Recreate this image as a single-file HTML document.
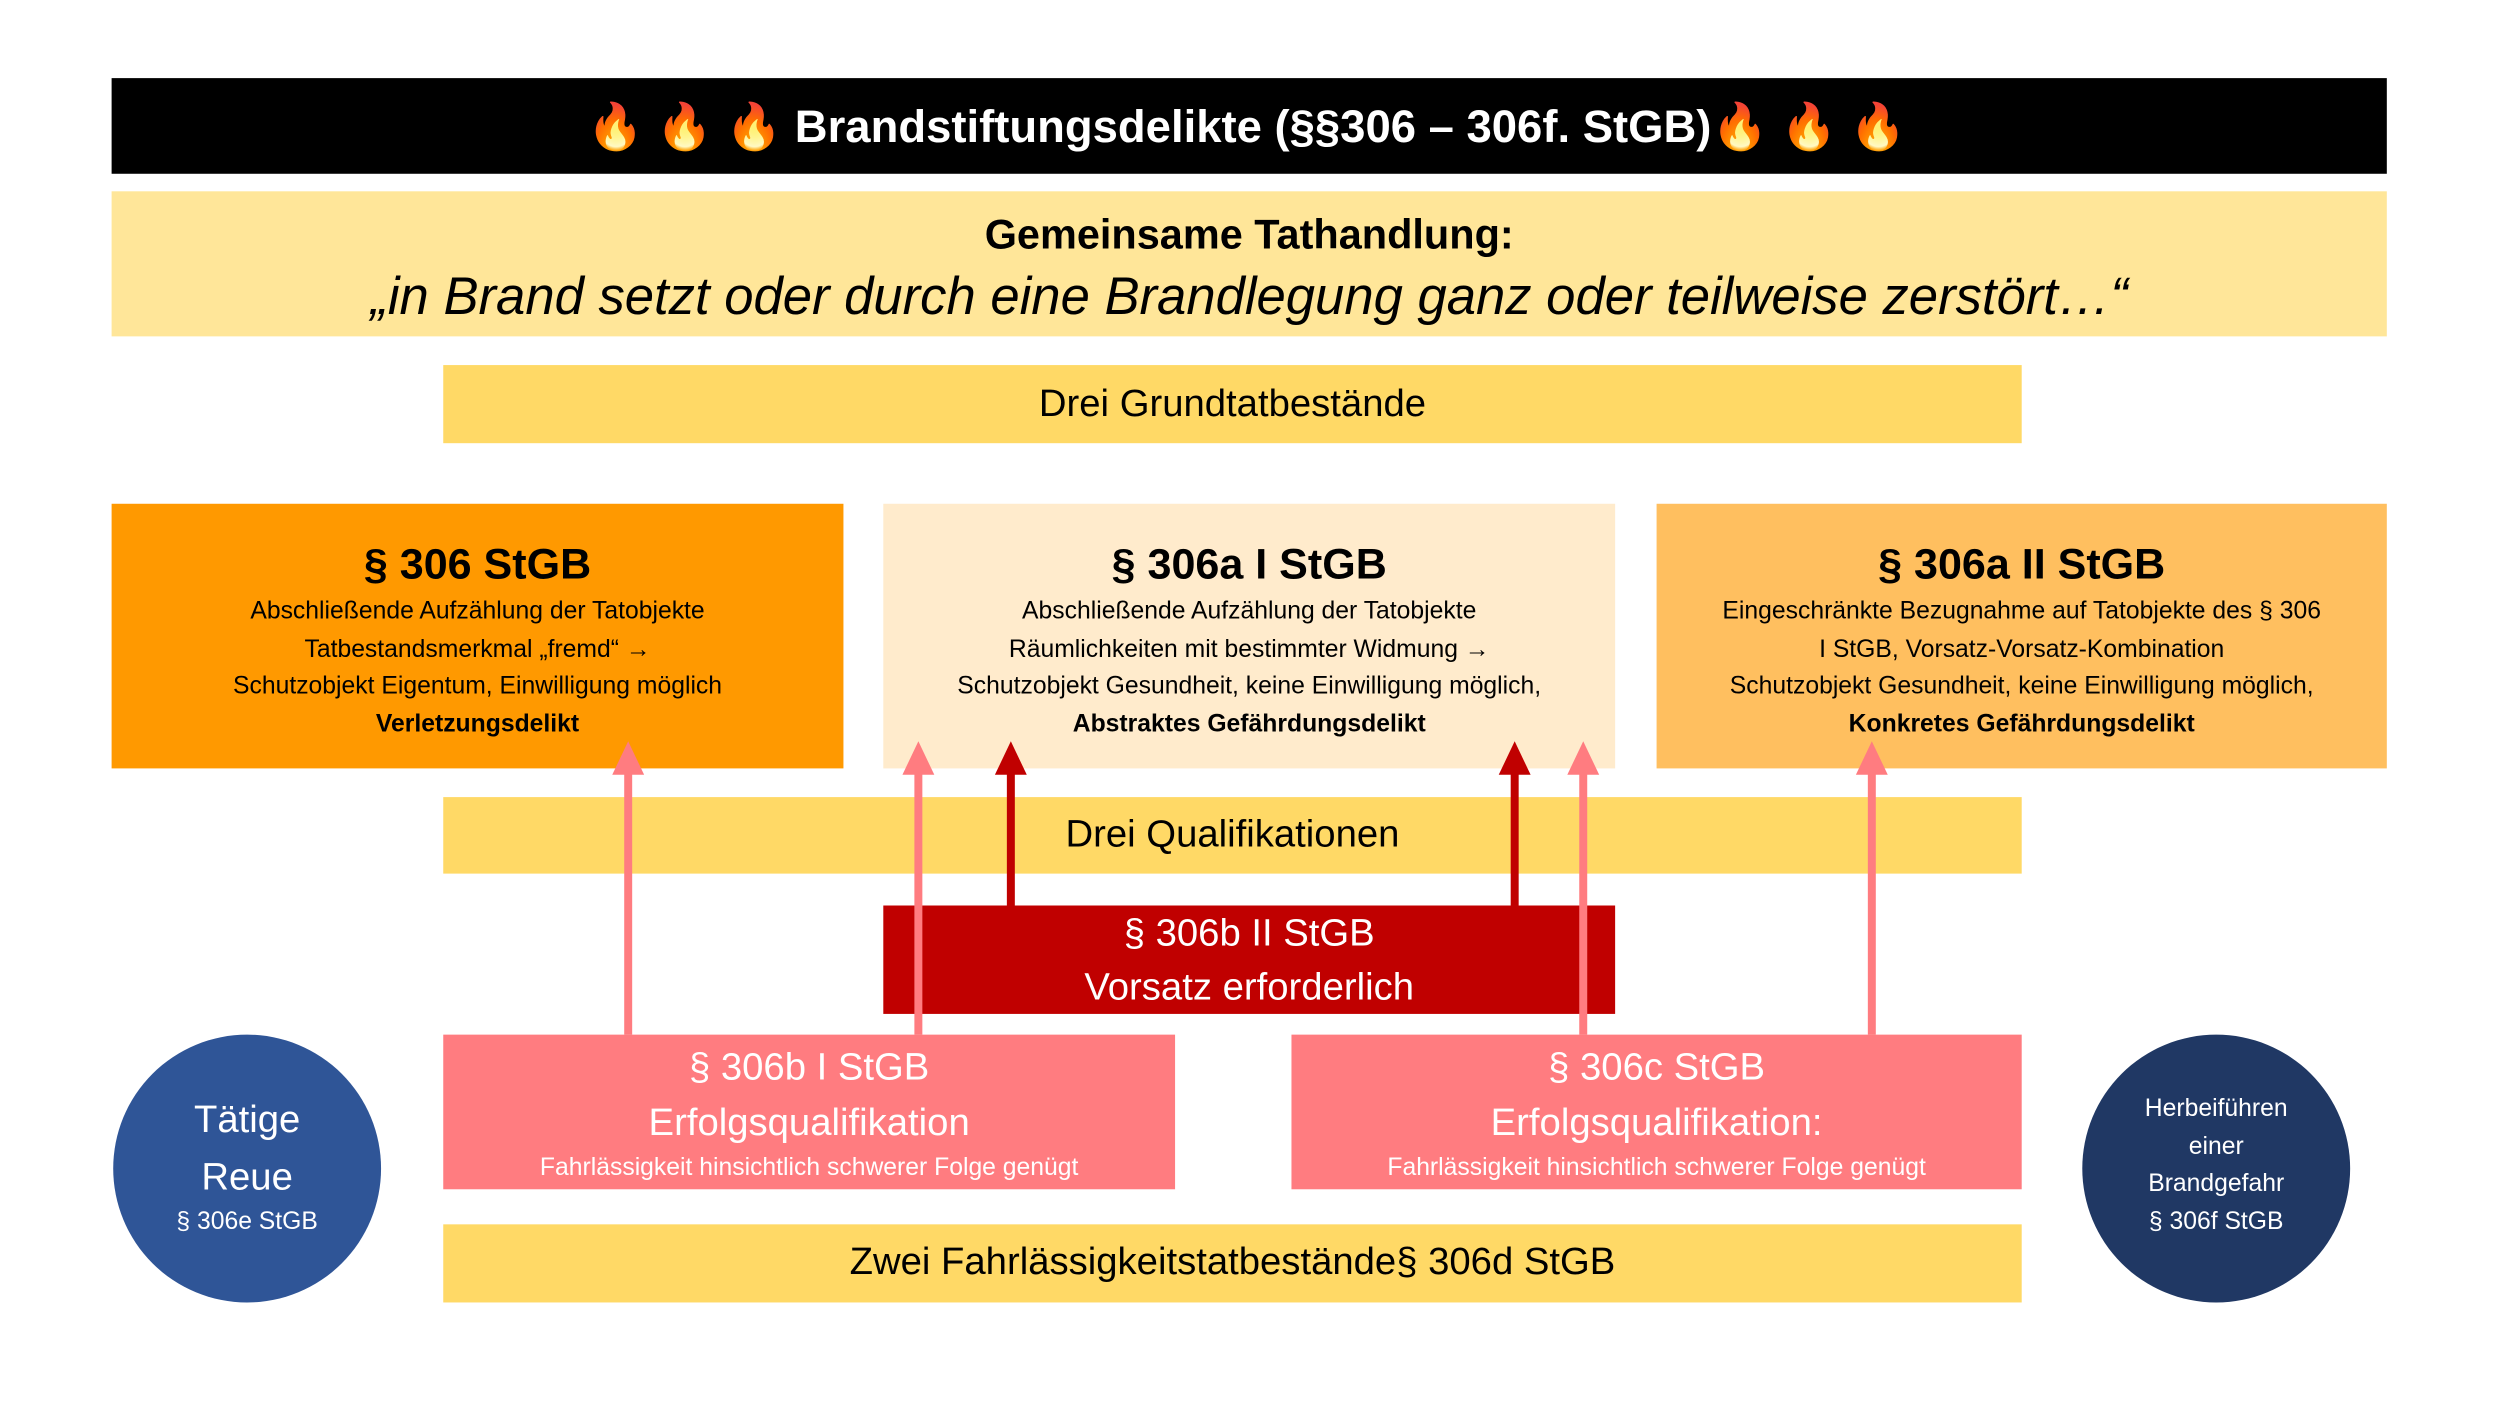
<!DOCTYPE html>
<html><head><meta charset="utf-8"><style>
html,body{margin:0;padding:0;background:#fff;width:2500px;height:1406px;overflow:hidden}
#s{position:absolute;left:0;top:0;width:1568px;height:882px;transform:scale(1.5944,1.5942);transform-origin:0 0;font-family:"Liberation Sans",sans-serif}
.b{position:absolute;box-sizing:border-box;text-align:center}
.t{position:absolute;left:0;right:0;text-align:center;white-space:nowrap}
.sm{font-size:15.5px;line-height:23.5px}
</style></head><body><div id="s">
<div class="b" style="left:70px;top:49px;width:1427px;height:60px;background:#000"></div>
<div class="t" style="top:61px;width:1568px;color:#fff;font-weight:bold;font-size:28.5px;line-height:38px;left:-2px">🔥 🔥 🔥 Brandstiftungsdelikte (§§306 – 306f. StGB)🔥 🔥 🔥</div>

<div class="b" style="left:70px;top:120px;width:1427px;height:91px;background:#FFE699">
<div class="t" style="top:10px;font-weight:bold;font-size:26px;line-height:34px">Gemeinsame Tathandlung:</div>
<div class="t" style="top:47px;font-style:italic;font-size:33px;line-height:38px">„in Brand setzt oder durch eine Brandlegung ganz oder teilweise zerstört…“</div>
</div>

<div class="b" style="left:278px;top:229px;width:990px;height:49px;background:#FFD966"><div class="t" style="top:9px;font-size:24px;line-height:32px">Drei Grundtatbestände</div></div>

<div class="b" style="left:70px;top:316px;width:459px;height:166px;background:#FF9900">
<div class="t" style="top:20px;font-weight:bold;font-size:27px;line-height:36px">§ 306 StGB</div>
<div class="t sm" style="top:56px">Abschließende Aufzählung der Tatobjekte<br>Tatbestandsmerkmal „fremd“ →<br>Schutzobjekt Eigentum, Einwilligung möglich<br><b>Verletzungsdelikt</b></div></div>

<div class="b" style="left:554px;top:316px;width:459px;height:166px;background:#FFEBCC">
<div class="t" style="top:20px;font-weight:bold;font-size:27px;line-height:36px">§ 306a I StGB</div>
<div class="t sm" style="top:56px">Abschließende Aufzählung der Tatobjekte<br>Räumlichkeiten mit bestimmter Widmung →<br>Schutzobjekt Gesundheit, keine Einwilligung möglich,<br><b>Abstraktes Gefährdungsdelikt</b></div></div>

<div class="b" style="left:1039px;top:316px;width:458px;height:166px;background:#FFBF5F">
<div class="t" style="top:20px;font-weight:bold;font-size:27px;line-height:36px">§ 306a II StGB</div>
<div class="t sm" style="top:56px">Eingeschränkte Bezugnahme auf Tatobjekte des § 306<br>I StGB, Vorsatz-Vorsatz-Kombination<br>Schutzobjekt Gesundheit, keine Einwilligung möglich,<br><b>Konkretes Gefährdungsdelikt</b></div></div>

<div class="b" style="left:278px;top:500px;width:990px;height:48px;background:#FFD966"><div class="t" style="top:8px;font-size:24px;line-height:32px">Drei Qualifikationen</div></div>

<div class="b" style="left:554px;top:568px;width:459px;height:68px;background:#C00000;color:#fff">
<div class="t" style="top:1px;font-size:24px;line-height:34px">§ 306b II StGB<br>Vorsatz erforderlich</div></div>

<div class="b" style="left:278px;top:649px;width:459px;height:97px;background:#FF7C80;color:#fff">
<div class="t" style="top:3px;font-size:24px;line-height:35px">§ 306b I StGB<br>Erfolgsqualifikation</div>
<div class="t" style="top:74px;font-size:15.5px;line-height:20px">Fahrlässigkeit hinsichtlich schwerer Folge genügt</div></div>

<div class="b" style="left:810px;top:649px;width:458px;height:97px;background:#FF7C80;color:#fff">
<div class="t" style="top:3px;font-size:24px;line-height:35px">§ 306c StGB<br>Erfolgsqualifikation:</div>
<div class="t" style="top:74px;font-size:15.5px;line-height:20px">Fahrlässigkeit hinsichtlich schwerer Folge genügt</div></div>

<div class="b" style="left:278px;top:768px;width:990px;height:49px;background:#FFD966"><div class="t" style="top:8px;font-size:24px;line-height:32px">Zwei Fahrlässigkeitstatbestände§ 306d StGB</div></div>

<div class="b" style="left:71px;top:649px;width:168px;height:168px;border-radius:50%;background:#2F5597;color:#fff">
<div class="t" style="top:36px;font-size:24px;line-height:36px">Tätige<br>Reue</div>
<div class="t" style="top:108px;font-size:15.5px;line-height:20px">§ 306e StGB</div></div>

<div class="b" style="left:1306px;top:649px;width:168px;height:168px;border-radius:50%;background:#203864;color:#fff">
<div class="t" style="top:35px;font-size:15.5px;line-height:23.5px">Herbeiführen<br>einer<br>Brandgefahr<br>§ 306f StGB</div></div>

<svg width="1568" height="882" style="position:absolute;left:0;top:0">
<g fill="#FF7C80" stroke="#FF7C80">
<line x1="394" y1="649" x2="394" y2="480" stroke-width="5"/><polygon points="384,486 404,486 394,465" stroke="none"/>
<line x1="576" y1="649" x2="576" y2="480" stroke-width="5"/><polygon points="566,486 586,486 576,465" stroke="none"/>
<line x1="993" y1="649" x2="993" y2="480" stroke-width="5"/><polygon points="983,486 1003,486 993,465" stroke="none"/>
<line x1="1174" y1="649" x2="1174" y2="480" stroke-width="5"/><polygon points="1164,486 1184,486 1174,465" stroke="none"/>
</g>
<g fill="#C00000" stroke="#C00000">
<line x1="634" y1="568" x2="634" y2="480" stroke-width="5"/><polygon points="624,486 644,486 634,465" stroke="none"/>
<line x1="950" y1="568" x2="950" y2="480" stroke-width="5"/><polygon points="940,486 960,486 950,465" stroke="none"/>
</g>
</svg>
</div></body></html>
